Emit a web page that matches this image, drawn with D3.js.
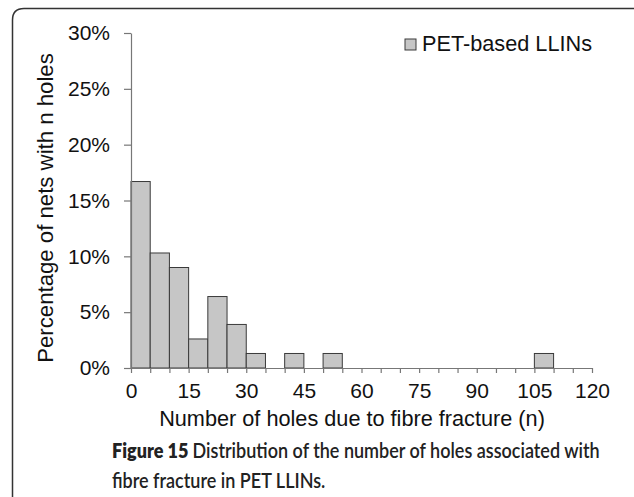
<!DOCTYPE html>
<html>
<head>
<meta charset="utf-8">
<script src="https://cdn.jsdelivr.net/npm/d3@7"></script>
<style>
  body { margin: 0; background: #fff; }
  svg { display: block; }
</style>
</head>
<body>
<div id="chart"></div>
<script>
// Histogram data: bins of width 5, percentage of nets
const binStarts = d3.range(0, 120, 5);
const percentValues = [16.7, 10.3, 9.0, 2.6, 6.4, 3.9, 1.3, 0, 1.3, 0, 1.3, 0,
                       0, 0, 0, 0, 0, 0, 0, 0, 0, 1.3, 0, 0];
const yTicks = [0, 5, 10, 15, 20, 25, 30];
const xTicks = d3.range(0, 125, 5);
const xLabelTicks = [0, 15, 30, 45, 60, 75, 90, 105, 120];
const seriesName = "PET-based LLINs";

const width = 634, height = 497;
const plot = { left: 131, right: 592, top: 33, bottom: 368 };
const font = "Liberation Sans, Arial, sans-serif";

const svg = d3.select("#chart").append("svg")
  .attr("width", width)
  .attr("height", height);

// frame with rounded top-left corner
svg.append("path")
  .attr("d", `M12.5,${height + 2} L12.5,20 Q12.5,8.5 24,8.5 L${width + 2},8.5`)
  .attr("fill", "none")
  .attr("stroke", "#333")
  .attr("stroke-width", 1.5);

const x = d3.scaleLinear().domain([0, 120]).range([plot.left, plot.right]);
const y = d3.scaleLinear().domain([0, 30]).range([plot.bottom, plot.top]);

// bars
svg.append("g")
  .selectAll("rect")
  .data(binStarts.map((b, i) => ({ b, v: percentValues[i] })).filter(d => d.v > 0))
  .join("rect")
  .attr("x", d => x(d.b))
  .attr("y", d => y(d.v))
  .attr("width", d => x(d.b + 5) - x(d.b))
  .attr("height", d => y(0) - y(d.v))
  .attr("fill", "#c6c6c6")
  .attr("stroke", "#3a3a3a")
  .attr("stroke-width", 1);

// y axis
const yAxis = svg.append("g")
  .attr("transform", `translate(${plot.left},0)`)
  .call(d3.axisLeft(y).tickValues(yTicks).tickFormat(d => d + "%").tickSize(7).tickSizeOuter(0).tickPadding(14));

// x axis
const xAxis = svg.append("g")
  .attr("transform", `translate(0,${plot.bottom})`)
  .call(d3.axisBottom(x).tickValues(xTicks)
    .tickFormat(d => xLabelTicks.includes(d) ? d : "")
    .tickSize(5).tickSizeOuter(0).tickPadding(10));

[yAxis, xAxis].forEach(a => {
  a.select(".domain").attr("stroke", "#777").attr("stroke-width", 1.2);
  a.selectAll(".tick line").attr("stroke", "#777").attr("stroke-width", 1.2);
  a.selectAll("text")
    .attr("fill", "#111")
    .attr("font-family", font)
    .attr("font-size", 21);
});

// axis titles
svg.append("text")
  .attr("transform", `translate(53,208) rotate(-90)`)
  .attr("text-anchor", "middle")
  .attr("font-family", font)
  .attr("font-size", 22.2)
  .attr("fill", "#111")
  .text("Percentage of nets with n holes");

svg.append("text")
  .attr("x", 352)
  .attr("y", 426)
  .attr("text-anchor", "middle")
  .attr("font-family", font)
  .attr("font-size", 21.7)
  .attr("fill", "#111")
  .text("Number of holes due to fibre fracture (n)");

// legend
const legend = svg.append("g").attr("transform", "translate(405,39)");
legend.append("rect")
  .attr("width", 11).attr("height", 11)
  .attr("fill", "#c6c6c6").attr("stroke", "#3a3a3a");
legend.append("text")
  .attr("x", 17).attr("y", 12)
  .attr("font-family", font)
  .attr("font-size", 21.7)
  .attr("fill", "#111")
  .text(seriesName);

// caption, two lines, a bit taller than wide like the scanned figure
const capFont = "Lato, 'Open Sans', sans-serif";
const cap1 = svg.append("text")
  .attr("transform", "translate(112,458) scale(1,1.15)")
  .attr("font-family", capFont)
  .attr("font-size", 20)
  .attr("fill", "#222");
cap1.append("tspan").attr("font-weight", 800).text("Figure 15 ");
cap1.append("tspan").attr("font-weight", 600).text("Distribution of the number of holes associated with");

const cap2 = svg.append("text")
  .attr("transform", "translate(112,488) scale(1,1.15)")
  .attr("font-family", capFont)
  .attr("font-size", 20)
  .attr("font-weight", 600)
  .attr("fill", "#222")
  .text("fibre fracture in PET LLINs.");

// fit the first line to the reference width
const w1 = cap1.node().getComputedTextLength();
if (w1 > 0) {
  const fs = 20 * 488 / w1;
  cap1.attr("font-size", fs);
  cap2.attr("font-size", fs);
}
</script>
</body>
</html>
